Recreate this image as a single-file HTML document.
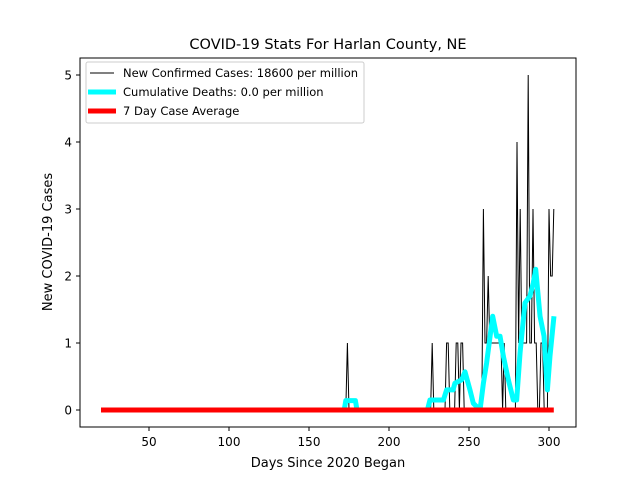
<!DOCTYPE html>
<html><head><meta charset="utf-8"><style>
html,body{margin:0;padding:0;background:#fff;}
svg{display:block;font-family:"DejaVu Sans","Liberation Sans",sans-serif;}
</style></head><body>
<svg id="chart" width="640" height="480" viewBox="0 0 640 480">
<rect x="0" y="0" width="640" height="480" fill="#fff"/>
<text x="328" y="49" font-size="14.5" text-anchor="middle">COVID-19 Stats For Harlan County, NE</text>
<g id="plot"></g>
<rect x="80" y="58" width="496" height="369" fill="none" stroke="#000" stroke-width="1"/>
<g id="xticks"></g><g id="yticks"></g>
<text x="328" y="467" font-size="13" text-anchor="middle">Days Since 2020 Began</text>
<text transform="translate(52,242) rotate(-90)" font-size="13" text-anchor="middle">New COVID-19 Cases</text>
<g>
<rect x="86" y="62" width="278" height="61" rx="2" fill="#fff" fill-opacity="0.8" stroke="#ccc" stroke-width="1"/>
<line x1="90" y1="73" x2="114" y2="73" stroke="#000" stroke-width="1"/>
<text x="123" y="77" font-size="11.5">New Confirmed Cases: 18600 per million</text>
<line x1="88" y1="92" x2="116" y2="92" stroke="#00ffff" stroke-width="5"/>
<text x="123" y="96" font-size="11.5">Cumulative Deaths: 0.0 per million</text>
<line x1="88" y1="111" x2="116" y2="111" stroke="#ff0000" stroke-width="5"/>
<text x="123" y="115" font-size="11.5">7 Day Case Average</text>
</g>
</svg>
<script>
const startDay = 20;
const endDay = 303;
const caseDays = [174,227,236,237,242,243,245,246,259,260,261,262,263,264,265,266,267,268,269,270,272,280,281,282,283,284,285,286,287,288,289,290,291,292,295,296,300,301,302,303];
const caseValues = [1,1,1,1,1,1,1,1,3,1,1,2,1,1,1,1,1,1,1,1,1,4,1,3,1,1,1,1,5,1,1,3,1,1,1,1,3,2,2,3];
const avgDays = [172,173,179,180,224,225.6,234,236,240,241.2,245.4,247.5,250.6,252.7,256.9,259,261,264.8,267.3,269.4,271.5,274.6,277.7,279.8,281.9,285,288.1,290.2,291.7,294.4,296.9,299,300.6,303.1];
const avgValues = [0,0.14,0.14,0,0,0.15,0.15,0.3,0.3,0.4,0.45,0.57,0.3,0.1,0,0.4,0.7,1.4,1.1,1.1,0.8,0.45,0.15,0.15,0.85,1.6,1.7,1.9,2.1,1.4,1.1,0.3,0.8,1.4];
const xTicks = [50,100,150,200,250,300];
const yTicks = [0,1,2,3,4,5];

const NS = "http://www.w3.org/2000/svg";
const xs = d => 69 + d * 1.6;
const ys = v => 410 - v * 67;
const plot = document.getElementById('plot');

function mk(tag, attrs, parent){const e=document.createElementNS(NS,tag);for(const k in attrs)e.setAttribute(k,attrs[k]);parent.appendChild(e);return e;}

// daily cases
const caseMap = {};
caseDays.forEach((d,i)=>caseMap[d]=caseValues[i]);
let pts=[];
for(let d=startDay; d<=endDay; d++){pts.push(xs(d).toFixed(2)+','+ys(caseMap[d]||0).toFixed(2));}
const casesLine = mk('polyline',{points:pts.join(' '),fill:'none',stroke:'#000','stroke-width':1},plot);



// cyan average
const ap = avgDays.map((d,i)=>xs(d).toFixed(2)+','+ys(avgValues[i]).toFixed(2)).join(' ');
const avgLine = mk('polyline',{points:ap,fill:'none',stroke:'#00ffff','stroke-width':5,'stroke-linejoin':'round'},plot);



// red flat line
const red = mk('line',{x1:xs(startDay),y1:ys(0),x2:xs(endDay),y2:ys(0),stroke:'#ff0000','stroke-width':5},plot);



const xg=document.getElementById('xticks');
xTicks.forEach(t=>{
  const l=mk('line',{x1:xs(t),y1:427,x2:xs(t),y2:431,stroke:'#000'},xg);
  
  
  const tx=mk('text',{x:xs(t),y:446,'font-size':12,'text-anchor':'middle'},xg);
  tx.textContent=t;
  
  
});
const yg=document.getElementById('yticks');
yTicks.forEach(t=>{
  const l=mk('line',{x1:76,y1:ys(t),x2:80,y2:ys(t),stroke:'#000'},yg);
  
  
  const tx=mk('text',{x:72,y:ys(t)+4.5,'font-size':12,'text-anchor':'end'},yg);
  tx.textContent=t;
  
  
});
</script>
</body></html>
